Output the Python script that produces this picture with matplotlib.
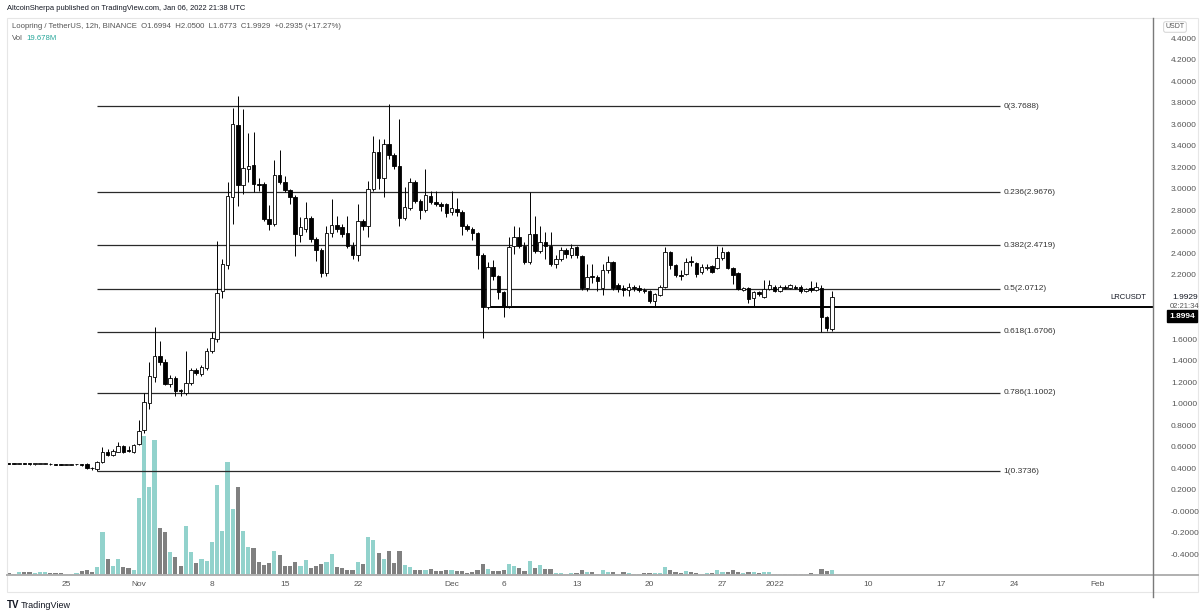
import numpy as np
import pandas as pd
import matplotlib
matplotlib.use("Agg")
import matplotlib.pyplot as plt
from matplotlib.lines import Line2D
from matplotlib.patches import Rectangle

plt.rcParams['font.family'] = ['Liberation Sans', 'DejaVu Sans']

W, H = 1200, 616

# 12h candles, LRC/USDT (Binance)
opens = [.448, .444, .442, .446, .440, .437, .439, .441, .443, .435, .433, .431, .433, .435, .438,
         .44, .40, .39, .456, .55, .52, .55, .61, .565, .55, .63, .76, 1.01, 1.25, 1.44,
         1.39, 1.18, 1.24, 1.125, 1.10, 1.19, 1.31, 1.28, 1.33, 1.49, 1.60, 2.05, 2.29, 2.92, 3.59,
         3.03, 3.18, 3.22, 3.045, 3.04, 2.72, 2.67, 3.13, 3.06, 2.99, 2.92, 2.57, 2.63, 2.73, 2.53,
         2.43, 2.22, 2.59, 2.66, 2.64, 2.59, 2.47, 2.38, 2.70, 2.65, 3.00, 3.34, 3.10, 3.42, 3.31,
         3.21, 2.73, 2.82, 3.06, 2.89, 2.80, 2.93, 2.88, 2.86, 2.86, 2.78, 2.81, 2.78, 2.65, 2.63,
         2.59, 2.38, 1.90, 2.27, 2.19, 2.04, 1.91, 2.47, 2.55, 2.47, 2.32, 2.58, 2.42, 2.50, 2.47,
         2.30, 2.35, 2.43, 2.38, 2.46, 2.37, 2.08, 2.185, 2.18, 2.08, 2.24, 2.32, 2.10, 2.08, 2.06,
         2.085, 2.08, 2.06, 2.05, 1.96, 2.01, 2.09, 2.41, 2.29, 2.20, 2.21, 2.325, 2.31, 2.23, 2.265,
         2.28, 2.26, 2.36, 2.41, 2.26, 2.22, 2.06, 2.08, 1.98, 2.04, 1.99, 2.07, 2.09, 2.05, 2.09,
         2.08, 2.09, 2.09, 2.05, 2.08, 2.06, 2.08, 1.81, 1.6994]
highs = [.452, .448, .450, .449, .444, .442, .444, .446, .445, .438, .437, .436, .437, .442, .440,
         .45, .41, .47, .60, .58, .58, .64, .62, .61, .63, .85, 1.10, 1.39, 1.71, 1.58,
         1.42, 1.27, 1.26, 1.14, 1.49, 1.33, 1.33, 1.36, 1.52, 1.67, 2.51, 2.35, 3.06, 3.75, 3.86,
         3.74, 3.52, 3.53, 3.10, 3.06, 2.85, 3.27, 3.36, 3.12, 3.00, 2.94, 2.74, 2.88, 2.75, 2.55,
         2.45, 2.65, 2.90, 2.75, 2.67, 2.75, 2.50, 2.86, 2.72, 3.07, 3.49, 3.46, 3.46, 3.79, 3.33,
         3.65, 3.02, 3.10, 3.08, 2.90, 3.18, 2.98, 2.98, 2.88, 2.87, 2.98, 2.91, 2.80, 2.67, 2.64,
         2.60, 2.40, 2.32, 2.34, 2.20, 2.05, 2.55, 2.65, 2.64, 2.50, 2.97, 2.75, 2.65, 2.60, 2.60,
         2.38, 2.46, 2.45, 2.49, 2.47, 2.38, 2.30, 2.30, 2.20, 2.30, 2.37, 2.33, 2.12, 2.10, 2.12,
         2.10, 2.10, 2.08, 2.06, 2.03, 2.10, 2.46, 2.42, 2.30, 2.24, 2.36, 2.37, 2.32, 2.30, 2.30,
         2.29, 2.47, 2.46, 2.42, 2.27, 2.23, 2.09, 2.09, 2.05, 2.05, 2.15, 2.15, 2.10, 2.10, 2.10,
         2.11, 2.10, 2.10, 2.08, 2.14, 2.13, 2.10, 1.82, 2.05]
lows = [.440, .440, .438, .438, .434, .433, .435, .437, .432, .430, .428, .428, .430, .432, .425,
        .39, .385, .3736, .45, .51, .51, .55, .54, .55, .54, .62, .73, .95, 1.20, 1.36,
        1.17, 1.16, 1.07, 1.07, 1.08, 1.17, 1.27, 1.26, 1.31, 1.47, 1.57, 1.98, 2.25, 2.67, 2.84,
        2.95, 3.06, 2.97, 2.98, 2.70, 2.62, 2.65, 3.04, 2.97, 2.86, 2.37, 2.50, 2.60, 2.50, 2.33,
        2.18, 2.19, 2.55, 2.60, 2.55, 2.45, 2.35, 2.33, 2.62, 2.55, 2.98, 3.00, 2.92, 3.28, 3.18,
        2.65, 2.71, 2.80, 2.87, 2.72, 2.78, 2.86, 2.84, 2.79, 2.74, 2.76, 2.75, 2.57, 2.61, 2.52,
        2.25, 1.61, 1.88, 2.15, 1.97, 1.81, 1.89, 2.39, 2.45, 2.30, 2.30, 2.40, 2.40, 2.35, 2.28,
        2.26, 2.33, 2.36, 2.36, 2.36, 2.06, 2.05, 2.12, 2.05, 2.01, 2.22, 2.06, 2.04, 2.00, 2.00,
        2.05, 2.04, 2.03, 1.94, 1.90, 2.00, 2.08, 2.25, 2.18, 2.15, 2.20, 2.28, 2.18, 2.21, 2.24,
        2.22, 2.25, 2.34, 2.25, 2.11, 2.06, 2.05, 1.94, 1.91, 2.00, 1.98, 2.06, 2.04, 2.04, 2.07,
        2.07, 2.07, 2.03, 2.04, 2.04, 2.05, 1.67, 1.68, 1.6773]
closes = [.444, .442, .446, .440, .437, .439, .441, .443, .435, .433, .431, .433, .435, .438, .430,
          .40, .398, .456, .55, .52, .56, .61, .55, .56, .62, .75, 1.02, 1.26, 1.44, 1.39,
          1.18, 1.24, 1.12, 1.115, 1.19, 1.31, 1.29, 1.34, 1.49, 1.61, 2.03, 2.30, 2.93, 3.60, 3.03,
          3.19, 3.21, 3.04, 3.035, 2.72, 2.67, 3.13, 3.06, 2.99, 2.92, 2.58, 2.64, 2.73, 2.53, 2.43,
          2.22, 2.59, 2.66, 2.63, 2.58, 2.47, 2.38, 2.70, 2.65, 3.00, 3.34, 3.10, 3.42, 3.31, 3.21,
          2.73, 2.83, 3.06, 2.89, 2.80, 2.94, 2.88, 2.86, 2.84, 2.77, 2.82, 2.78, 2.65, 2.63, 2.59,
          2.38, 1.90, 2.27, 2.19, 2.04, 1.91, 2.46, 2.55, 2.47, 2.32, 2.58, 2.42, 2.50, 2.47, 2.30,
          2.35, 2.43, 2.39, 2.45, 2.38, 2.08, 2.18, 2.18, 2.14, 2.24, 2.32, 2.08, 2.07, 2.06, 2.09,
          2.08, 2.06, 2.05, 1.96, 2.02, 2.09, 2.41, 2.29, 2.20, 2.19, 2.32, 2.315, 2.21, 2.27, 2.275,
          2.23, 2.36, 2.41, 2.26, 2.20, 2.07, 2.08, 1.97, 2.04, 2.02, 2.07, 2.10, 2.05, 2.09, 2.08,
          2.10, 2.08, 2.05, 2.07, 2.06, 2.09, 1.81, 1.70, 1.9929]
# volume, millions of LRC
volumes = [6.7, 3.9, 10.6, 10.6, 10.6, 6.7, 10.6, 10.6, 6.7, 6.7, 6.7, 3.9, 3.9, 6.7, 14.6,
           20.9, 13.0, 30.3, 170.6, 61.9, 34.3, 61.9, 30.3, 26.4, 19.7, 303.4, 548.8, 345.5, 533.1, 185.2,
           168.2, 89.4, 72.1, 34.3, 194.2, 91.8, 47.3, 63.0, 54.0, 131.2, 355.8, 172.2, 448.0, 260.0, 345.5,
           172.2, 109.1, 105.2, 50.0, 40.6, 46.1, 95.7, 78.8, 34.3, 34.3, 50.0, 36.6, 59.1, 26.4, 34.3,
           43.3, 52.4, 82.7, 30.3, 27.6, 19.7, 19.7, 52.4, 43.3, 148.5, 137.9, 86.7, 63.0, 95.7, 47.3,
           93.4, 39.4, 30.3, 19.7, 19.7, 19.7, 25.6, 15.8, 15.8, 18.5, 19.7, 15.8, 15.8, 9.1, 11.8,
           19.7, 44.5, 22.5, 15.8, 15.8, 18.5, 44.5, 35.5, 28.8, 15.8, 55.2, 28.8, 39.4, 22.5, 22.5,
           9.1, 9.1, 5.1, 7.9, 9.1, 18.5, 13.0, 13.0, 5.1, 18.5, 13.0, 13.0, 5.1, 11.8, 9.1,
           5.1, 3.9, 6.7, 9.1, 9.1, 9.1, 31.5, 19.7, 13.0, 6.7, 15.8, 13.0, 9.1, 5.1, 7.9,
           7.9, 20.9, 13.0, 13.0, 18.5, 11.8, 9.1, 13.0, 10.6, 6.7, 10.6, 11.8, 5.1, 2.8, 3.9,
           3.9, 3.9, 3.9, 5.1, 9.1, 2.8, 22.5, 15.8, 19.678]

fib_ratios = ["0", "0.236", "0.382", "0.5", "0.618", "0.786", "1"]
fib_prices = [3.7688, 2.9676, 2.4719, 2.0712, 1.6706, 1.1002, 0.3736]
hline_price = 1.8994

date_ticks = ["2021-10-25", "2021-11-01", "2021-11-08", "2021-11-15", "2021-11-22", "2021-12-01",
              "2021-12-06", "2021-12-13", "2021-12-20", "2021-12-27", "2022-01-01", "2022-01-10",
              "2022-01-17", "2022-01-24", "2022-02-01"]
date_labels = ["25", "Nov", "8", "15", "22", "Dec", "6", "13", "20", "27", "2022", "10", "17", "24", "Feb"]

price_ticks = [4.4, 4.2, 4.0, 3.8, 3.6, 3.4, 3.2, 3.0, 2.8, 2.6, 2.4, 2.2,
               1.6, 1.4, 1.2, 1.0, 0.8, 0.6, 0.4, 0.2, 0.0, -0.2, -0.4]

# ---------------------------------------------------------------
origin = pd.Timestamp("2021-10-25")
times = pd.date_range("2021-10-19 12:00", periods=len(opens), freq="12h")
t = np.asarray((times - origin) / pd.Timedelta("1D"))
o = np.array(opens); h = np.array(highs); l = np.array(lows); c = np.array(closes)
up = c >= o

def fx(px):
    return px / W

def fy(py):
    return 1 - py / H

fig = plt.figure(figsize=(W / 100, H / 100), dpi=100)
fig.patch.set_facecolor("white")

ax = fig.add_axes([fx(8), fy(575), fx(1153) - fx(8), fy(18) - fy(575)])
axv = ax.twinx()
axv.set_zorder(0)
ax.set_zorder(1)
ax.patch.set_visible(False)

xmin, xmax = -5.566, 104.32
ax.set_xlim(xmin, xmax)
ax.set_ylim(-0.593, 4.588)
axv.set_ylim(0, 2199)

# volume
vcol = np.where(up, "#92d2cc", "#808080")
axv.bar(t, volumes, width=0.4, color=vcol, linewidth=0)
axv.set_yticks([])
for s in axv.spines.values():
    s.set_visible(False)

# fib retracement lines
fib_start, fib_end = 3.0, 89.6
for r, p in zip(fib_ratios, fib_prices):
    ax.hlines(p, fib_start, fib_end, color="#2a2a2a", lw=0.9, zorder=2)
    ax.text(fib_end + 0.4, p, f"{r}({p:.4f})", fontsize=6, color="#333333",
            va="center", ha="left")

ax.hlines(hline_price, 40.5, xmax, color="black", lw=1.4, zorder=2)

# candles
ax.vlines(t, l, h, color="black", lw=0.7, zorder=3)
bottoms = np.minimum(o, c)
heights = np.maximum(np.abs(c - o), 0.008)
ax.bar(t, heights, bottom=bottoms, width=0.34,
       color=np.where(up, "white", "black"), edgecolor="black", linewidth=0.6, zorder=4)

# axes styling
for s in ax.spines.values():
    s.set_visible(False)
tick_pos = [(pd.Timestamp(d) - origin) / pd.Timedelta("1D") for d in date_ticks]
ax.set_xticks(tick_pos)
ax.set_xticklabels(date_labels)
ax.tick_params(axis="x", length=0, pad=4.5, labelsize=6, labelcolor="#555555")
ax.yaxis.tick_right()
ax.set_yticks(price_ticks)
ax.set_yticklabels(["-0.0000" if v == 0 else f"{v:.4f}" for v in price_ticks])
ax.tick_params(axis="y", length=0, pad=13, labelsize=6, labelcolor="#555555")

# frame lines
fig.add_artist(Rectangle((fx(7), fy(592)), fx(1198) - fx(7), fy(18) - fy(592),
                         transform=fig.transFigure, fill=False, edgecolor="#e6e6e6", lw=0.8))
fig.add_artist(Line2D([fx(7), fx(1198)], [fy(575), fy(575)], transform=fig.transFigure,
                      color="#b0b0b0", lw=1.4))
fig.add_artist(Line2D([fx(1153), fx(1153)], [fy(18), fy(597)], transform=fig.transFigure,
                      color="#7a7a7a", lw=1.0))

# header
fig.text(fx(7), fy(8), "AltcoinSherpa published on TradingView.com, Jan 06, 2022 21:38 UTC",
         fontsize=5.4, color="#131722", va="center")
fig.text(fx(12), fy(27),
         "Loopring / TetherUS, 12h, BINANCE  O1.6994  H2.0500  L1.6773  C1.9929  +0.2935 (+17.27%)",
         fontsize=5.6, color="#555555", va="center")
fig.text(fx(12), fy(38), "Vol", fontsize=5.6, color="#555555", va="center")
fig.text(fx(26), fy(38), "19.678M", fontsize=5.6, color="#26a69a", va="center")

# right scale extras
fig.text(fx(1175), fy(27), "USDT", fontsize=5, color="#555555", va="center", ha="center",
         bbox=dict(boxstyle="round,pad=0.25", fc="white", ec="#cccccc", lw=0.6))
fig.text(fx(1146), fy(297), "LRCUSDT", fontsize=5.5, color="#131722", va="center", ha="right")
fig.text(fx(1172), fy(297), "1.9929", fontsize=6, color="#131722", va="center", ha="left")
fig.text(fx(1170), fy(306), "02:21:34", fontsize=5.5, color="#555555", va="center", ha="left")
fig.text(fx(1182), fy(316), "1.8994", fontsize=6, color="white", va="center", ha="center",
         fontweight="bold", bbox=dict(boxstyle="square,pad=0.3", fc="black", ec="black"))

# footer logo
fig.text(fx(7), fy(605), "TV", fontsize=7, color="#131722", va="center", fontweight="bold")
fig.text(fx(21), fy(605), "TradingView", fontsize=6.5, color="#131722", va="center")

fig.savefig("out.png", dpi=100)
